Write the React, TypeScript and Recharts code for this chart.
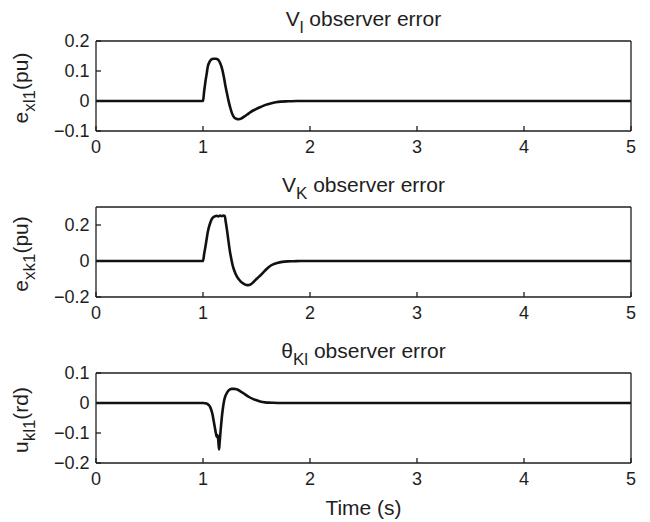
import React from 'react';
import { LineChart, Line, XAxis, YAxis } from 'recharts';

const FONT = '"Liberation Sans", Arial, Helvetica, sans-serif';
const INK = '#1e1e1e';

const PLOT_TOP = 41;
const PLOT_H = 90;

const timeTicks = [0, 1, 2, 3, 4, 5];

// V_l observer error
const vlTime = [0, 1.0, 1.01, 1.022, 1.034, 1.044, 1.065, 1.085, 1.1, 1.12, 1.138, 1.16, 1.178, 1.195, 1.209, 1.225, 1.241, 1.257, 1.272, 1.29, 1.31, 1.334, 1.36, 1.381, 1.41, 1.444, 1.49, 1.538, 1.585, 1.631, 1.68, 1.725, 1.8, 1.88, 2, 3, 4, 5];
const vlError = [0, 0, 0.03, 0.063, 0.09, 0.113, 0.133, 0.14, 0.141, 0.141, 0.139, 0.127, 0.108, 0.08, 0.052, 0.024, -0.003, -0.025, -0.042, -0.054, -0.059, -0.061, -0.058, -0.053, -0.046, -0.037, -0.028, -0.02, -0.013, -0.008, -0.004, -0.002, -0.001, 0, 0, 0, 0, 0];
const vlTicks = [-0.1, 0, 0.1, 0.2];

// V_K observer error
const vkTime = [0, 1.0, 1.011, 1.022, 1.033, 1.044, 1.056, 1.069, 1.082, 1.094, 1.105, 1.116, 1.13, 1.145, 1.16, 1.175, 1.19, 1.203, 1.213, 1.225, 1.237, 1.25, 1.265, 1.281, 1.3, 1.319, 1.342, 1.366, 1.39, 1.419, 1.445, 1.475, 1.505, 1.538, 1.575, 1.616, 1.655, 1.694, 1.74, 1.788, 1.85, 1.91, 2, 3, 4, 5];
const vkError = [0, 0, 0.04, 0.077, 0.118, 0.159, 0.19, 0.214, 0.232, 0.242, 0.247, 0.249, 0.251, 0.248, 0.252, 0.249, 0.252, 0.25, 0.215, 0.169, 0.115, 0.059, 0.01, -0.033, -0.065, -0.088, -0.107, -0.121, -0.13, -0.134, -0.13, -0.115, -0.097, -0.079, -0.056, -0.033, -0.019, -0.011, -0.005, -0.002, -0.001, 0, 0, 0, 0, 0];
const vkTicks = [-0.2, 0, 0.2];

// theta_Kl observer error
const thTime = [0, 1.0, 1.034, 1.05, 1.065, 1.078, 1.09, 1.1, 1.112, 1.12, 1.128, 1.136, 1.143, 1.15, 1.156, 1.165, 1.175, 1.185, 1.196, 1.21, 1.221, 1.24, 1.268, 1.29, 1.315, 1.35, 1.393, 1.43, 1.47, 1.5, 1.533, 1.58, 1.64, 1.72, 1.85, 2, 3, 4, 5];
const thError = [0, 0, -0.002, -0.006, -0.012, -0.024, -0.04, -0.06, -0.084, -0.1, -0.112, -0.108, -0.125, -0.155, -0.13, -0.09, -0.051, -0.02, 0.005, 0.024, 0.032, 0.042, 0.047, 0.047, 0.046, 0.039, 0.029, 0.02, 0.013, 0.009, 0.005, 0.002, 0.001, 0, 0, 0, 0, 0, 0];
const thTicks = [-0.2, -0.1, 0, 0.1];

const toRows = (t: number[], v: number[]) => t.map((x, i) => ({ t: x, v: v[i] }));

const fmt = (v: number) => (v < 0 ? '\u2212' + String(-v) : String(v));

type Sub = { main: string; sub: string; rest: string };

const subText = (s: Sub, size: number, subSize: number) => [
  <tspan key="m">{s.main}</tspan>,
  <tspan key="s" dy={7} fontSize={subSize}>{s.sub}</tspan>,
  <tspan key="r" dy={-7} fontSize={size}>{s.rest}</tspan>,
];

interface PanelProps {
  top: number;
  height: number;
  title: Sub;
  ylabel: Sub;
  rows: { t: number; v: number }[];
  domain: [number, number];
  ticks: number[];
  xlabel?: string;
}

const axisStroke = { stroke: INK, strokeWidth: 1.3 };
const tickFont = { fontSize: 18, fontFamily: FONT, fill: INK };

const Panel = ({ top, height, title, ylabel, rows, domain, ticks, xlabel }: PanelProps) => {
  const bottomMargin = height - PLOT_TOP - PLOT_H - 30;
  const cy = PLOT_TOP + PLOT_H / 2 + 2;
  return (
    <div style={{ position: 'absolute', left: 0, top, width: 650, height }}>
      <LineChart width={650} height={height} data={rows} margin={{ top: PLOT_TOP - 1, right: 18, bottom: bottomMargin, left: 0 }}>
        <XAxis
          xAxisId="b"
          dataKey="t"
          type="number"
          domain={[0, 5]}
          allowDataOverflow
          ticks={timeTicks}
          interval={0}
          height={30}
          tickSize={-5}
          tickMargin={14}
          axisLine={axisStroke}
          tickLine={axisStroke}
          tick={tickFont}
          label={xlabel ? {
            content: () => (
              <text x={363.5} y={PLOT_TOP + PLOT_H + 52} textAnchor="middle" fontFamily={FONT} fontSize={21} fill={INK}>{xlabel}</text>
            ),
          } : undefined}
        />
        <XAxis
          xAxisId="top"
          orientation="top"
          dataKey="t"
          type="number"
          domain={[0, 5]}
          allowDataOverflow
          ticks={timeTicks}
          interval={0}
          height={1}
          tickSize={-5}
          axisLine={axisStroke}
          tickLine={axisStroke}
          tick={false}
          label={{
            content: () => (
              <text x={363.5} y={PLOT_TOP - 15} textAnchor="middle" fontFamily={FONT} fontSize={21} fill={INK}>
                {subText(title, 21, 17)}
              </text>
            ),
          }}
        />
        <YAxis
          yAxisId="l"
          type="number"
          domain={domain}
          allowDataOverflow
          ticks={ticks}
          interval={0}
          width={96}
          tickSize={-5}
          tickMargin={11.5}
          tickFormatter={fmt}
          axisLine={axisStroke}
          tickLine={axisStroke}
          tick={tickFont}
          label={{
            content: () => (
              <text transform={`rotate(-90 28 ${cy})`} x={28} y={cy} textAnchor="middle" fontFamily={FONT} fontSize={21} fill={INK}>
                {subText(ylabel, 21, 17)}
              </text>
            ),
          }}
        />
        <YAxis
          yAxisId="r"
          orientation="right"
          type="number"
          domain={domain}
          allowDataOverflow
          ticks={ticks}
          interval={0}
          width={1}
          tickSize={-5}
          axisLine={axisStroke}
          tickLine={axisStroke}
          tick={false}
        />
        <Line
          xAxisId="b"
          yAxisId="l"
          type="monotone"
          dataKey="v"
          stroke="#111"
          strokeWidth={2.6}
          dot={false}
          isAnimationActive={false}
        />
      </LineChart>
    </div>
  );
};

export default function App() {
  return (
    <div style={{ position: 'absolute', left: 0, top: 0, width: 650, height: 522, background: '#fff' }}>
      <Panel
        top={0}
        height={167}
        title={{ main: 'V', sub: 'l', rest: ' observer error' }}
        ylabel={{ main: 'e', sub: 'xl1', rest: '(pu)' }}
        rows={toRows(vlTime, vlError)}
        domain={[-0.1, 0.2]}
        ticks={vlTicks}
      />
      <Panel
        top={166}
        height={167}
        title={{ main: 'V', sub: 'K', rest: ' observer error' }}
        ylabel={{ main: 'e', sub: 'xk1', rest: '(pu)' }}
        rows={toRows(vkTime, vkError)}
        domain={[-0.2, 0.3]}
        ticks={vkTicks}
      />
      <Panel
        top={332}
        height={190}
        title={{ main: '\u03b8', sub: 'Kl', rest: ' observer error' }}
        ylabel={{ main: 'u', sub: 'kl1', rest: '(rd)' }}
        rows={toRows(thTime, thError)}
        domain={[-0.2, 0.1]}
        ticks={thTicks}
        xlabel="Time (s)"
      />
    </div>
  );
}
